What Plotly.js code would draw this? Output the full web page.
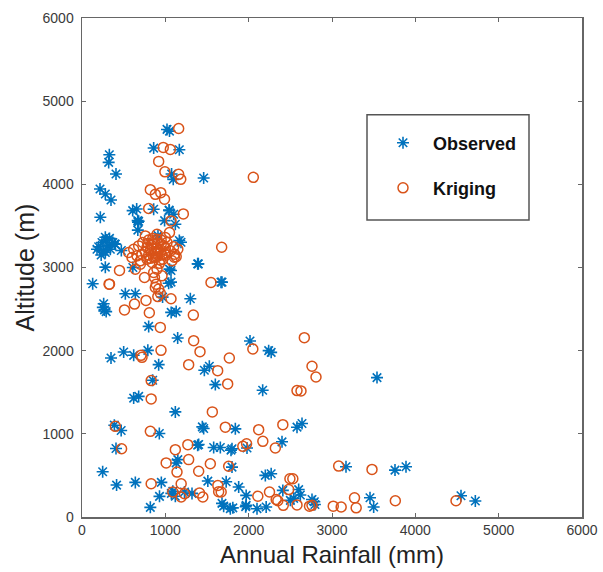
<!DOCTYPE html>
<html>
<head>
<meta charset="utf-8">
<script src="https://cdn.plot.ly/plotly-3.0.1.min.js"></script>
<style>html,body{margin:0;padding:0;background:#fff;}#chart{width:603px;height:572px;}</style>
</head>
<body>
<div id="chart"></div>
<script>
// Observed (rainfall mm, altitude m)
const obsX = [1020,1050,860,1168,328,320,408,1075,1095,1460,216,280,348,656,860,1045,1100,220,680,670,1120,280,
  200,240,260,290,310,340,370,230,280,400,330,180,1188,1396,280,610,1050,
  672,912,991,472,392,608,668,1048,1168,1388,1668,1068,1068,
  128,260,270,250,290,520,640,1040,967,1300,1680,1070,1130,800,1148,348,500,620,790,920,848,620,680,1120,
  388,470,408,928,248,415,640,820,952,930,1130,1150,1090,1320,1400,1460,1468,1528,1600,1580,1660,1510,1730,
  1700,1810,1880,1800,1840,1800,1980,1970,1970,2016,2168,2240,2270,2400,2200,2270,2210,2410,2580,
  3540,2640,3168,3756,3888,4548,4720,3456,3500,2600,2500,2795,2760,
  1072,1120,1444,1788,1230,1680,1780,1964,2100,2540,2620,2788,1388];
const obsY = [4660,4640,4436,4416,4356,4264,4124,4124,4060,4076,3944,3884,3812,3704,3700,3690,3640,3604,3556,3450,3520,3364,
  3250,3300,3200,3330,3260,3220,3300,3150,3180,3280,3350,3220,3304,3044,3004,3000,2980,
  3544,3384,3564,3204,3284,3684,3564,3684,3324,3044,2824,2964,2824,
  2804,2564,2490,2520,2470,2684,2684,2810,2644,2624,2824,2460,2470,2292,2152,1912,1984,1944,2004,1832,1644,1430,1450,1264,
  1104,1040,824,1004,544,384,416,116,416,248,650,690,310,284,872,1064,1764,1812,1592,836,836,432,424,
  130,110,360,600,1060,820,830,260,140,2116,1524,2000,1980,904,500,520,120,320,1080,
  1676,1124,604,564,604,256,192,232,120,330,200,150,210,
  284,250,1084,804,300,164,100,124,100,224,264,184,864];

// Kriging (rainfall mm, altitude m)
const krigX = [1160,975,1060,920,995,1160,1185,2056,820,945,990,880,800,1216,1676,1068,1130,450,
  560,620,680,730,780,820,860,900,940,980,1020,1060,1100,1150,600,660,720,760,800,850,900,950,1000,1050,1110,
  700,780,840,880,930,970,1010,1080,640,700,900,960,870,890,920,940,910,880,860,900,1108,750,330,
  760,800,840,880,920,960,1000,790,830,870,910,950,990,820,860,900,940,
  325,510,630,768,808,940,1068,1336,1548,948,708,720,1340,1416,1280,1628,1768,1748,2050,830,830,1564,
  400,820,475,1120,1270,1280,1010,1140,1400,1540,1720,1975,2120,2170,2320,2410,1930,1760,
  830,1190,1090,1190,1450,1630,1670,2110,2250,2330,2530,2580,2668,2760,2808,2628,
  3080,3480,3760,4488,2495,2480,3270,3015,3110,3290,2415,2730,2760,1410,1640,2350,2580,1230];
const krigY = [4672,4444,4420,4276,4150,4120,4060,4084,3936,3900,3820,3880,3710,3644,3244,3560,3130,2965,
  3180,3220,3260,3300,3240,3200,3280,3230,3180,3260,3300,3200,3250,3220,3120,3140,3160,3380,3330,3350,3400,3330,3360,3420,3160,
  3080,3100,3060,3120,3050,3100,3150,3080,2980,3040,2980,2900,2880,2800,2740,2690,2650,2760,2940,3340,3124,2880,2800,
  3190,3150,3230,3170,3210,3150,3230,3290,3270,3310,3200,3280,3170,3110,3120,3130,3090,
  2800,2490,2560,2604,2456,2280,2624,2428,2820,2004,1944,1920,2120,1988,1832,1760,1912,1600,2020,1640,1420,1264,
  1090,1030,820,810,870,690,650,540,550,640,1080,880,1050,910,830,1110,850,610,
  400,400,300,240,240,380,300,250,300,210,460,1520,2156,1812,1684,1516,
  612,572,196,196,460,330,230,130,120,110,140,130,140,288,305,195,145,280];

const axisFont = {family: 'Liberation Sans, Arial, sans-serif', size: 14, color: '#3a3a3a'};

const traceObs = {
  x: obsX, y: obsY, type: 'scatter', mode: 'markers', name: 'Observed', legend: 'legend',
  marker: {symbol: 'asterisk-open', size: 10, color: '#0072BD', line: {color: '#0072BD', width: 1.6}}
};
const traceKrig = {
  x: krigX, y: krigY, type: 'scatter', mode: 'markers', name: 'Kriging', legend: 'legend2',
  marker: {symbol: 'circle-open', size: 10, color: '#D95319', line: {color: '#D95319', width: 1.5}}
};

const legFont = {family: 'Liberation Sans, Arial, sans-serif', size: 18, color: '#111', weight: 'bold'};

const layout = {
  width: 603, height: 572,
  margin: {l: 82, r: 21, t: 18, b: 55},
  paper_bgcolor: '#fff', plot_bgcolor: '#fff',
  showlegend: true,
  xaxis: {
    range: [0, 6000], dtick: 1000, tick0: 0, showgrid: false, zeroline: false,
    showline: true, linecolor: '#666', linewidth: 1.5, mirror: 'ticks',
    ticks: 'inside', ticklen: 4, tickwidth: 1, tickcolor: '#666',
    tickfont: axisFont, ticklabelstandoff: 0
  },
  yaxis: {
    range: [0, 6000], dtick: 1000, tick0: 0, showgrid: false, zeroline: false,
    showline: true, linecolor: '#666', linewidth: 1.5, mirror: 'ticks',
    ticks: 'inside', ticklen: 4, tickwidth: 1, tickcolor: '#666',
    tickfont: axisFont, ticklabelstandoff: 4
  },
  legend: {x: 0.582, xanchor: 'left', y: 0.7495, yanchor: 'middle', bgcolor: 'rgba(0,0,0,0)', borderwidth: 0, font: legFont, itemwidth: 50},
  legend2: {x: 0.582, xanchor: 'left', y: 0.659, yanchor: 'middle', bgcolor: 'rgba(0,0,0,0)', borderwidth: 0, font: legFont, itemwidth: 50},
  shapes: [{type: 'rect', xref: 'paper', yref: 'paper', x0: 0.57, x1: 0.894, y0: 0.595, y1: 0.806,
    line: {color: '#555', width: 1.5}, fillcolor: 'rgba(255,255,255,0)', layer: 'above'}],
  annotations: [
    {text: 'Annual Rainfall (mm)', xref: 'paper', yref: 'paper', x: 0.5, y: -0.076, xanchor: 'center', yanchor: 'middle',
     showarrow: false, font: {family: 'Liberation Sans, Arial, sans-serif', size: 24, color: '#222'}},
    {text: 'Altitude (m)', xref: 'paper', yref: 'paper', x: -0.116, y: 0.5, xanchor: 'center', yanchor: 'middle',
     textangle: -90, showarrow: false, font: {family: 'Liberation Sans, Arial, sans-serif', size: 25, color: '#222'}}
  ]
};

Plotly.newPlot('chart', [traceObs, traceKrig], layout, {displayModeBar: false, staticPlot: true});
</script>
</body>
</html>
